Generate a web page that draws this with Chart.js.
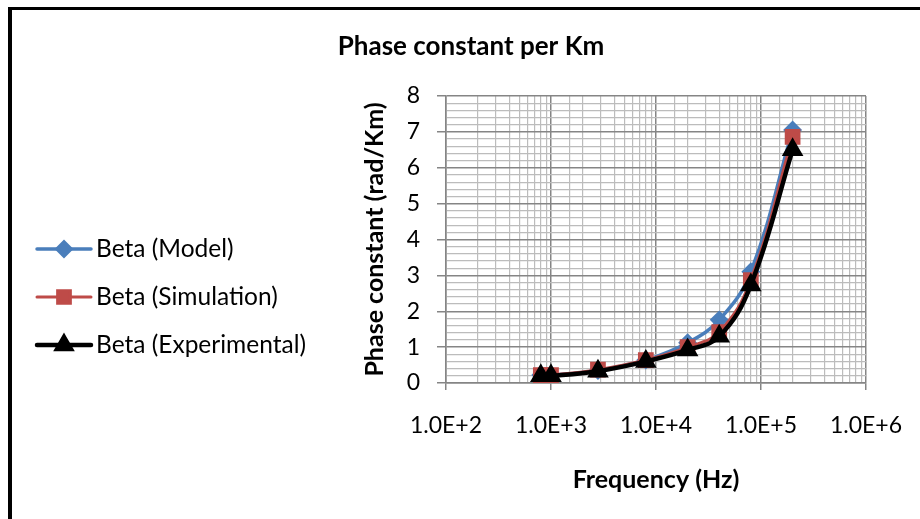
<!DOCTYPE html>
<html>
<head>
<meta charset="utf-8">
<script src="https://cdn.jsdelivr.net/npm/chart.js@4.4.1/dist/chart.umd.min.js"></script>
<style>
html, body { margin: 0; padding: 0; background: #fff; }
#wrap { position: relative; width: 920px; height: 519px; overflow: hidden; }
#frame { position: absolute; left: 8px; top: 7px; width: 930px; height: 540px; border-left: 4px solid #000; border-top: 3px solid #000; }
#phaseCanvas { position: absolute; left: 0; top: 0; }
</style>
</head>
<body>
<div id="wrap">
  <div id="frame"></div>
  <canvas id="phaseCanvas" width="920" height="519"></canvas>
</div>
<script>
// values
const freqs = [800, 1000, 2800, 8000, 20000, 40000, 80000, 200000];
const betaModel = [0.22, 0.22, 0.35, 0.64, 1.12, 1.76, 3.10, 7.05];
const betaSimulation = [0.22, 0.22, 0.37, 0.64, 1.00, 1.42, 2.87, 6.86];
const betaExperimental = [0.20, 0.20, 0.33, 0.60, 0.92, 1.30, 2.73, 6.50];
const seriesNames = ['Beta (Model)', 'Beta (Simulation)', 'Beta (Experimental)'];
const xMajorTicks = [1e2, 1e3, 1e4, 1e5, 1e6];
const yMajorTicks = [0, 1, 2, 3, 4, 5, 6, 7, 8];

const FONT = 'Lato, "Liberation Sans", sans-serif';
const MAJOR_GRID = '#858585';
const MINOR_GRID = '#bcbcbc';

function isMajorX(v) {
    return xMajorTicks.some(t => Math.abs(v - t) < 1e-6 * t);
}
function isMajorY(v) {
    return yMajorTicks.some(t => Math.abs(v - t) < 1e-6);
}
function toPoints(ys) {
    return freqs.map((f, i) => ({ x: f, y: ys[i] }));
}

// draws the chart title and the legend (line + marker samples)
const extrasPlugin = {
    id: 'extras',
    afterDraw(chart) {
        const ctx = chart.ctx;
        ctx.save();
        ctx.fillStyle = '#000';
        ctx.font = 'bold 26px ' + FONT;
        ctx.textAlign = 'center';
        ctx.textBaseline = 'middle';
        ctx.fillText('Phase constant per Km', 471, 47);

        const rows = [249, 297, 345];
        chart.data.datasets.forEach((ds, i) => {
            const y = rows[i];
            ctx.strokeStyle = ds.borderColor;
            ctx.lineWidth = ds.borderWidth;
            ctx.lineCap = 'round';
            ctx.beginPath();
            ctx.moveTo(37, y);
            ctx.lineTo(91, y);
            ctx.stroke();
            ctx.fillStyle = ds.pointBackgroundColor;
            ctx.strokeStyle = ds.pointBorderColor;
            Chart.helpers.drawPoint(ctx, {
                pointStyle: ds.pointStyle,
                radius: ds.pointRadius,
                rotation: 0,
                borderWidth: 1
            }, 64, y);
            ctx.fillStyle = '#000';
            ctx.font = '24.5px ' + FONT;
            ctx.textAlign = 'left';
            ctx.textBaseline = 'middle';
            ctx.fillText(seriesNames[i], 96, y);
        });
        ctx.restore();
    }
};

const ctx = document.getElementById('phaseCanvas').getContext('2d');

const phaseChart = new Chart(ctx, {
    type: 'line',
    data: {
        datasets: [{
            label: seriesNames[0],
            data: toPoints(betaModel),
            borderColor: '#4a7ebb',
            borderWidth: 3.5,
            pointStyle: 'rectRot',
            pointRadius: 7,
            pointBackgroundColor: '#4a7ebb',
            pointBorderColor: '#4a7ebb',
            tension: 0.4,
            order: 3
        }, {
            label: seriesNames[1],
            data: toPoints(betaSimulation),
            borderColor: '#be4b48',
            borderWidth: 3,
            pointStyle: 'rect',
            pointRadius: 9,
            pointBackgroundColor: '#be4b48',
            pointBorderColor: '#be4b48',
            tension: 0.4,
            order: 2
        }, {
            label: seriesNames[2],
            data: toPoints(betaExperimental),
            borderColor: '#000000',
            borderWidth: 4.5,
            pointStyle: 'triangle',
            pointRadius: 8,
            pointBackgroundColor: '#000000',
            pointBorderColor: '#000000',
            tension: 0.4,
            order: 1
        }]
    },
    options: {
        responsive: false,
        animation: false,
        events: [],
        layout: {
            padding: { left: 360, right: 54, top: 96, bottom: 24 }
        },
        scales: {
            x: {
                type: 'logarithmic',
                min: 100,
                max: 1e6,
                afterFit(scale) {
                    scale.height = 112;
                    // let the layout padding alone decide the plot edges
                    scale.paddingLeft = 0;
                    scale.paddingRight = 0;
                },
                border: { color: MAJOR_GRID, width: 1.5 },
                grid: {
                    color: c => isMajorX(c.tick.value) ? MAJOR_GRID : MINOR_GRID,
                    lineWidth: c => isMajorX(c.tick.value) ? 1.5 : 1.2,
                    tickColor: c => isMajorX(c.tick.value) ? MAJOR_GRID : 'rgba(0,0,0,0)',
                    tickLength: 7
                },
                ticks: {
                    autoSkip: false,
                    maxRotation: 0,
                    padding: 22,
                    color: '#000',
                    font: { family: FONT, size: 23 },
                    callback: v => isMajorX(v) ? '1.0E+' + Math.round(Math.log10(v)) : ''
                },
                title: {
                    display: true,
                    text: 'Frequency (Hz)',
                    color: '#000',
                    padding: 0,
                    font: { family: FONT, size: 25, weight: 'bold' }
                }
            },
            y: {
                min: 0,
                max: 8,
                afterFit(scale) { scale.width = 86; },
                border: { color: MAJOR_GRID, width: 1.5 },
                grid: {
                    color: c => isMajorY(c.tick.value) ? MAJOR_GRID : MINOR_GRID,
                    lineWidth: c => isMajorY(c.tick.value) ? 1.5 : 1.2,
                    tickColor: c => isMajorY(c.tick.value) ? MAJOR_GRID : 'rgba(0,0,0,0)',
                    tickLength: 9
                },
                ticks: {
                    stepSize: 0.2,
                    autoSkip: false,
                    padding: 17,
                    color: '#000',
                    font: { family: FONT, size: 23 },
                    callback: v => isMajorY(v) ? String(Math.round(v)) : ''
                },
                title: {
                    display: true,
                    text: 'Phase constant (rad/Km)',
                    color: '#000',
                    padding: 0,
                    font: { family: FONT, size: 25, weight: 'bold' }
                }
            }
        },
        plugins: {
            legend: { display: false },
            tooltip: { enabled: false }
        }
    },
    plugins: [extrasPlugin]
});
</script>
</body>
</html>
